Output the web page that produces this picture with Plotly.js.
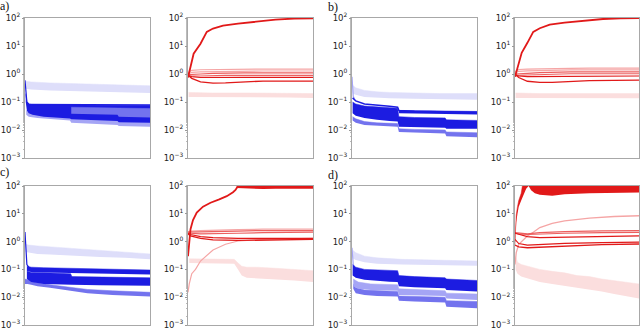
<!DOCTYPE html>
<html><head><meta charset="utf-8">
<script src="https://cdn.plot.ly/plotly-3.0.1.min.js"></script>
<style>html,body{margin:0;padding:0;background:#fff}#c{width:640px;height:331px}</style>
</head><body><div id="c"></div>
<script>
// ---------- shared tick labels ----------
const tickVals = [0.001, 0.01, 0.1, 1, 10, 100];
const tickText = ['10<sup>−3</sup>', '10<sup>−2</sup>', '10<sup>−1</sup>', '10<sup>0</sup>', '10<sup>1</sup>', '10<sup>2</sup>'];
const panelLabels = ['a)', 'b)', 'c)', 'd)'];

// ---------- panel a, left (blue) ----------
const aL_pale_x = [0.5, 5, 20, 40, 60, 80, 100];
const aL_pale_hi = [0.55, 0.52, 0.48, 0.45, 0.42, 0.4, 0.38];
const aL_pale_lo = [0.3, 0.28, 0.26, 0.25, 0.23, 0.22, 0.21];
const aL_light_x = [1, 3, 10, 20, 36, 37, 60, 74, 75, 100];
const aL_light_hi = [0.05, 0.045, 0.04, 0.038, 0.035, 0.035, 0.032, 0.03, 0.028, 0.026];
const aL_light_lo = [0.035, 0.03, 0.027, 0.025, 0.022, 0.018, 0.016, 0.015, 0.014, 0.013];
const aL_dark_x = [0.6, 1.5, 3, 6, 15, 30, 36, 37, 60, 74, 75, 100];
const aL_dark_hi = [0.2, 0.1, 0.085, 0.08, 0.08, 0.078, 0.078, 0.078, 0.077, 0.076, 0.076, 0.075];
const aL_dark_lo = [0.1, 0.05, 0.04, 0.035, 0.03, 0.027, 0.026, 0.024, 0.022, 0.021, 0.019, 0.018];
const aL_mid_x = [37, 60, 74, 75, 100];
const aL_mid_hi = [0.065, 0.062, 0.06, 0.06, 0.058];
const aL_mid_lo = [0.038, 0.036, 0.035, 0.03, 0.028];
const aL_spike_x = [0, 0.3, 0.8, 1.5, 3];
const aL_spike_y = [0.6, 0.45, 0.2, 0.1, 0.085];
const aL_top_x = [1.5, 20, 50, 100];
const aL_top_y = [0.082, 0.08, 0.079, 0.078];

// ---------- panel a, right (red) ----------
const aR_pale_x = [0.5, 20, 50, 80, 100];
const aR_pale_hi = [0.22, 0.21, 0.21, 0.21, 0.2];
const aR_pale_lo = [0.15, 0.15, 0.15, 0.145, 0.14];
const aR_big_x = [0, 2, 4.5, 10, 15, 20, 28, 40, 55, 70, 85, 100];
const aR_big_y = [0.75, 1.8, 5.3, 12, 32, 42, 53, 63, 75, 87, 96, 98];
const aR_line_x = [0, 3, 10, 20, 30, 45, 60, 100];
const aR_l1 = [0.9, 0.7, 0.52, 0.47, 0.48, 0.53, 0.56, 0.56];
const aR_l2 = [0.85, 0.8, 0.75, 0.74, 0.75, 0.76, 0.76, 0.76];
const aR_l3 = [0.9, 0.85, 0.85, 0.88, 0.9, 0.9, 0.9, 0.9];
const aR_l4 = [0.95, 0.95, 1.0, 1.05, 1.08, 1.1, 1.1, 1.1];
const aR_l5 = [1.0, 1.15, 1.2, 1.22, 1.25, 1.27, 1.28, 1.28];
const aR_l6 = [1.1, 1.35, 1.42, 1.45, 1.47, 1.5, 1.5, 1.5];

// ---------- panel b, left (blue) ----------
const bL_pale_x = [0.5, 3, 10, 20, 30, 50, 70, 100];
const bL_pale_hi = [0.4, 0.32, 0.26, 0.23, 0.22, 0.21, 0.2, 0.2];
const bL_pale_lo = [0.2, 0.18, 0.15, 0.14, 0.135, 0.13, 0.125, 0.12];
const bL_spike_x = [0, 0.4, 1, 2];
const bL_spike_y = [0.8, 0.4, 0.16, 0.13];
const bL_top_x = [0.5, 3, 10, 20, 30, 36.5, 37.5, 50, 75, 100];
const bL_top_y = [0.14, 0.11, 0.085, 0.075, 0.07, 0.065, 0.05, 0.047, 0.045, 0.043];
const bL_up_x = [37.5, 60, 100];
const bL_up_hi = [0.05, 0.048, 0.046];
const bL_up_lo = [0.04, 0.038, 0.036];
const bL_dark_x = [0.5, 3, 10, 20, 30, 36.5, 37.5, 50, 74.5, 75.5, 100];
const bL_dark_hi = [0.1, 0.085, 0.072, 0.066, 0.062, 0.06, 0.03, 0.028, 0.027, 0.023, 0.022];
const bL_dark_lo = [0.04, 0.032, 0.027, 0.023, 0.021, 0.02, 0.013, 0.0125, 0.012, 0.011, 0.011];
const bL_light_x = [0.5, 3, 10, 20, 36.5, 37.5, 50, 74.5, 75.5, 100];
const bL_light_hi = [0.03, 0.025, 0.02, 0.018, 0.017, 0.011, 0.0105, 0.01, 0.0085, 0.008];
const bL_light_lo = [0.022, 0.018, 0.015, 0.014, 0.013, 0.0085, 0.008, 0.0075, 0.006, 0.0055];

// ---------- panel b, right (red) ----------
const bR_pale_x = [0.5, 20, 50, 80, 100];
const bR_pale_hi = [0.21, 0.2, 0.2, 0.2, 0.2];
const bR_pale_lo = [0.14, 0.14, 0.14, 0.14, 0.135];
const bR_big_x = [0, 2, 5.4, 10, 14.7, 20, 28, 40, 52, 71, 85, 100];
const bR_big_y = [0.8, 1.8, 5.7, 13, 32, 43, 58, 68, 76, 92, 97, 99];
const bR_line_x = [0, 3, 10, 20, 30, 45, 60, 100];
const bR_l1 = [1.0, 0.75, 0.55, 0.5, 0.5, 0.55, 0.58, 0.6];
const bR_l2 = [0.9, 0.85, 0.8, 0.8, 0.82, 0.85, 0.85, 0.85];
const bR_l3 = [0.95, 0.9, 0.92, 0.95, 1.0, 1.02, 1.02, 1.02];
const bR_l4 = [1.0, 1.0, 1.05, 1.12, 1.18, 1.2, 1.2, 1.2];
const bR_l5 = [1.1, 1.25, 1.3, 1.35, 1.38, 1.4, 1.4, 1.4];
const bR_l6 = [1.2, 1.45, 1.5, 1.55, 1.58, 1.6, 1.62, 1.62];

// ---------- panel c, left (blue) ----------
const cL_pale_x = [0.5, 3, 10, 20, 40, 60, 80, 100];
const cL_pale_hi = [0.8, 0.75, 0.7, 0.65, 0.55, 0.48, 0.42, 0.36];
const cL_pale_lo = [0.42, 0.4, 0.36, 0.34, 0.3, 0.28, 0.26, 0.23];
const cL_spike_x = [0, 0.3, 0.8, 1.5, 3];
const cL_spike_y = [2.2, 1.0, 0.3, 0.15, 0.12];
const cL_up_x = [1.5, 5, 15, 30, 50, 70, 100];
const cL_up_hi = [0.13, 0.12, 0.115, 0.11, 0.105, 0.1, 0.095];
const cL_up_lo = [0.085, 0.08, 0.078, 0.075, 0.072, 0.07, 0.065];
const cL_low_x = [1.5, 5, 15, 30, 36.5, 37.5, 60, 100];
const cL_low_hi = [0.085, 0.078, 0.075, 0.072, 0.07, 0.055, 0.052, 0.05];
const cL_low_lo = [0.045, 0.035, 0.03, 0.028, 0.027, 0.028, 0.027, 0.026];
const cL_mid_x = [0, 2, 5, 10, 20, 30, 38, 50, 70, 100];
const cL_mid_hi = [0.045, 0.042, 0.038, 0.033, 0.028, 0.025, 0.022, 0.019, 0.017, 0.015];
const cL_mid_lo = [0.03, 0.03, 0.028, 0.025, 0.022, 0.019, 0.017, 0.014, 0.012, 0.0105];

// ---------- panel c, right (red) ----------
const cR_pale_x = [1, 10, 20, 30, 37, 40, 43, 47, 55, 70, 85, 100];
const cR_pale_hi = [0.24, 0.24, 0.24, 0.24, 0.23, 0.17, 0.13, 0.12, 0.12, 0.11, 0.1, 0.09];
const cR_pale_lo = [0.17, 0.17, 0.17, 0.17, 0.16, 0.1, 0.06, 0.05, 0.048, 0.045, 0.04, 0.035];
const cR_rise_x = [0, 1, 3, 6, 10, 15, 20, 30, 40, 60, 100];
const cR_rise_y = [0.015, 0.03, 0.07, 0.1, 0.2, 0.32, 0.5, 0.8, 1.05, 1.2, 1.3];
const cR_big_x = [0, 1, 2, 4, 7, 12, 18, 25, 31, 36, 38, 40];
const cR_big_y = [0.3, 1.0, 2.8, 6, 11, 18, 25, 33, 43, 60, 72, 100];
const cR_top_x = [39, 50, 60, 70, 80, 90, 100];
const cR_top_lo = [85, 80, 78, 80, 78, 80, 80];
const cR_top_hi = [200, 200, 200, 200, 200, 200, 200];
const cR_line_x = [0, 2, 10, 20, 40, 60, 100];
const cR_l1 = [1.9, 1.6, 1.3, 1.15, 1.1, 1.15, 1.2];
const cR_l2 = [2.0, 1.8, 1.5, 1.4, 1.3, 1.3, 1.3];
const cR_l3 = [2.1, 2.0, 1.9, 1.9, 2.0, 2.1, 2.2];
const cR_l4 = [2.2, 2.2, 2.2, 2.3, 2.4, 2.5, 2.5];
const cR_l5 = [2.3, 2.4, 2.5, 2.6, 2.7, 2.8, 2.8];

// ---------- panel d, left (blue) ----------
const dL_pale_x = [0.5, 3, 10, 20, 40, 60, 80, 100];
const dL_pale_hi = [0.5, 0.4, 0.3, 0.26, 0.23, 0.22, 0.21, 0.2];
const dL_pale_lo = [0.25, 0.22, 0.18, 0.16, 0.15, 0.145, 0.14, 0.135];
const dL_spike_x = [0, 0.5, 1, 2];
const dL_spike_y = [0.6, 0.3, 0.15, 0.12];
const dL_dark_x = [0.5, 3, 10, 20, 30, 36.5, 37.5, 50, 74.5, 75.5, 100];
const dL_dark_hi = [0.15, 0.12, 0.1, 0.095, 0.09, 0.09, 0.06, 0.055, 0.05, 0.045, 0.04];
const dL_dark_lo = [0.06, 0.05, 0.042, 0.038, 0.036, 0.035, 0.025, 0.023, 0.021, 0.018, 0.016];
const dL_light_x = [1, 5, 15, 36.5, 37.5, 74.5, 75.5, 100];
const dL_light_hi = [0.045, 0.035, 0.03, 0.028, 0.02, 0.017, 0.014, 0.013];
const dL_light_lo = [0.025, 0.02, 0.018, 0.017, 0.012, 0.011, 0.009, 0.008];
const dL_mid_x = [1, 3, 10, 20, 36.5, 37.5, 50, 74.5, 75.5, 100];
const dL_mid_hi = [0.03, 0.022, 0.018, 0.017, 0.016, 0.011, 0.0105, 0.01, 0.0075, 0.007];
const dL_mid_lo = [0.02, 0.014, 0.012, 0.011, 0.0105, 0.0075, 0.007, 0.0065, 0.0045, 0.004];

// ---------- panel d, right (red) ----------
const dR_pale_x = [0.5, 2, 5, 10, 20, 30, 40, 50, 60, 70, 80, 90, 100];
const dR_pale_hi = [0.3, 0.18, 0.15, 0.13, 0.1, 0.085, 0.075, 0.06, 0.055, 0.045, 0.04, 0.035, 0.03];
const dR_pale_lo = [0.1, 0.07, 0.055, 0.048, 0.035, 0.03, 0.026, 0.022, 0.019, 0.016, 0.013, 0.011, 0.009];
const dR_rise_x = [0, 1, 3, 6, 10, 15, 20, 30, 40, 60, 80, 100];
const dR_rise_y = [0.15, 0.4, 0.8, 1.1, 1.6, 2.2, 3.2, 4.5, 5.6, 7, 8, 8.5];
const dR_big_x = [0, 0.5, 1, 2, 3, 5, 7, 9, 11, 13, 16, 20, 30, 40, 60, 80, 100];
const dR_big_lo = [0.6, 3, 5, 10, 18, 30, 50, 80, 100, 70, 55, 48, 45, 50, 55, 57, 58];
const dR_big_hi = [1, 5, 9, 18, 30, 55, 200, 200, 200, 200, 200, 200, 200, 200, 200, 200, 200];
const dR_line_x = [0, 3, 10, 20, 40, 70, 100];
const dR_l1 = [0.75, 0.65, 0.6, 0.63, 0.7, 0.78, 0.82];
const dR_l2 = [1.2, 0.85, 0.75, 0.8, 0.87, 0.92, 0.95];
const dR_l3 = [2.0, 1.8, 1.5, 1.4, 1.45, 1.5, 1.6];
const dR_l4 = [2.0, 1.9, 1.8, 1.9, 2.0, 2.1, 2.15];
const dR_l5 = [2.1, 2.0, 1.9, 2.1, 2.3, 2.45, 2.5];

// ---------- colours ----------
const BLUE_D = 'rgb(28,28,225)', BLUE_M = 'rgb(115,115,238)', BLUE_L = 'rgb(165,165,245)', BLUE_P = 'rgb(222,222,250)';
const RED_D = 'rgb(225,25,25)', RED_M = 'rgb(236,95,95)', RED_L = 'rgb(245,165,165)', RED_P = 'rgb(251,222,222)';

const traces = [];
function ax(i) { return i === 1 ? ['x', 'y'] : ['x' + i, 'y' + i]; }
function band(i, x, lo, hi, color) {
  const [xa, ya] = ax(i);
  traces.push({x: x, y: lo, xaxis: xa, yaxis: ya, mode: 'lines', line: {width: 0, color: color}, hoverinfo: 'skip', showlegend: false});
  traces.push({x: x, y: hi, xaxis: xa, yaxis: ya, mode: 'lines', line: {width: 0.5, color: color}, fill: 'tonexty', fillcolor: color, hoverinfo: 'skip', showlegend: false});
}
function line(i, x, y, color, w) {
  const [xa, ya] = ax(i);
  traces.push({x: x, y: y, xaxis: xa, yaxis: ya, mode: 'lines', line: {width: w, color: color}, hoverinfo: 'skip', showlegend: false});
}

// a left
band(1, aL_pale_x, aL_pale_lo, aL_pale_hi, BLUE_P);
band(1, aL_light_x, aL_light_lo, aL_light_hi, BLUE_L);
band(1, aL_dark_x, aL_dark_lo, aL_dark_hi, BLUE_D);
band(1, aL_mid_x, aL_mid_lo, aL_mid_hi, BLUE_M);
line(1, aL_spike_x, aL_spike_y, BLUE_D, 1.2);
line(1, aL_top_x, aL_top_y, BLUE_D, 1.5);
// a right
band(2, aR_pale_x, aR_pale_lo, aR_pale_hi, RED_P);
line(2, aR_line_x, aR_l6, RED_L, 1.2);
line(2, aR_line_x, aR_l5, RED_L, 1.2);
line(2, aR_line_x, aR_l4, RED_M, 1.2);
line(2, aR_line_x, aR_l3, RED_M, 1.2);
line(2, aR_line_x, aR_l2, RED_D, 1.2);
line(2, aR_line_x, aR_l1, RED_D, 1.3);
line(2, aR_big_x, aR_big_y, RED_D, 1.8);
// b left
band(3, bL_pale_x, bL_pale_lo, bL_pale_hi, BLUE_P);
line(3, bL_spike_x, bL_spike_y, BLUE_L, 1.2);
band(3, bL_light_x, bL_light_lo, bL_light_hi, BLUE_M);
band(3, bL_dark_x, bL_dark_lo, bL_dark_hi, BLUE_D);
band(3, bL_up_x, bL_up_lo, bL_up_hi, BLUE_D);
line(3, bL_top_x, bL_top_y, BLUE_D, 1.5);
// b right
band(4, bR_pale_x, bR_pale_lo, bR_pale_hi, RED_P);
line(4, bR_line_x, bR_l6, RED_L, 1.2);
line(4, bR_line_x, bR_l5, RED_L, 1.2);
line(4, bR_line_x, bR_l4, RED_M, 1.2);
line(4, bR_line_x, bR_l3, RED_M, 1.2);
line(4, bR_line_x, bR_l2, RED_D, 1.2);
line(4, bR_line_x, bR_l1, RED_D, 1.3);
line(4, bR_big_x, bR_big_y, RED_D, 1.8);
// c left
band(5, cL_pale_x, cL_pale_lo, cL_pale_hi, BLUE_P);
band(5, cL_mid_x, cL_mid_lo, cL_mid_hi, BLUE_M);
band(5, cL_low_x, cL_low_lo, cL_low_hi, BLUE_D);
band(5, cL_up_x, cL_up_lo, cL_up_hi, BLUE_D);
line(5, cL_spike_x, cL_spike_y, BLUE_D, 1.2);
// c right
band(6, cR_pale_x, cR_pale_lo, cR_pale_hi, RED_P);
line(6, cR_rise_x, cR_rise_y, RED_L, 1.2);
line(6, cR_line_x, cR_l5, RED_L, 1.2);
line(6, cR_line_x, cR_l4, RED_M, 1.2);
line(6, cR_line_x, cR_l3, RED_M, 1.2);
line(6, cR_line_x, cR_l2, RED_D, 1.2);
line(6, cR_line_x, cR_l1, RED_D, 1.3);
line(6, cR_big_x, cR_big_y, RED_D, 1.8);
band(6, cR_top_x, cR_top_lo, cR_top_hi, RED_D);
// d left
band(7, dL_pale_x, dL_pale_lo, dL_pale_hi, BLUE_P);
line(7, dL_spike_x, dL_spike_y, BLUE_L, 1.2);
band(7, dL_mid_x, dL_mid_lo, dL_mid_hi, BLUE_M);
band(7, dL_light_x, dL_light_lo, dL_light_hi, BLUE_L);
band(7, dL_dark_x, dL_dark_lo, dL_dark_hi, BLUE_D);
// d right
band(8, dR_pale_x, dR_pale_lo, dR_pale_hi, RED_P);
line(8, dR_rise_x, dR_rise_y, RED_L, 1.3);
line(8, dR_line_x, dR_l5, RED_M, 1.2);
line(8, dR_line_x, dR_l4, RED_M, 1.2);
line(8, dR_line_x, dR_l3, RED_D, 1.2);
line(8, dR_line_x, dR_l2, RED_D, 1.2);
line(8, dR_line_x, dR_l1, RED_D, 1.3);
band(8, dR_big_x, dR_big_lo, dR_big_hi, RED_D);

// ---------- layout ----------
const W = 640, H = 331;
const colsPx = [[25, 150], [188, 313], [352, 477], [515, 639]];
const rowsPx = [[18, 158], [186, 325]];
const layout = {
  width: W, height: H, margin: {l: 0, r: 0, t: 0, b: 0},
  paper_bgcolor: '#fff', plot_bgcolor: '#fff', showlegend: false,
  annotations: [], font: {family: 'DejaVu Sans', color: '#222'}
};
const cells = [[0, 0], [0, 1], [0, 2], [0, 3], [1, 0], [1, 1], [1, 2], [1, 3]];
cells.forEach((rc, k) => {
  const i = k + 1;
  const [r, c] = rc;
  const xd = [colsPx[c][0] / W, colsPx[c][1] / W];
  const yd = [1 - rowsPx[r][1] / H, 1 - rowsPx[r][0] / H];
  const xn = i === 1 ? 'xaxis' : 'xaxis' + i;
  const yn = i === 1 ? 'yaxis' : 'yaxis' + i;
  const [xa, ya] = ax(i);
  layout[xn] = {domain: xd, anchor: ya, range: [0, 100], showticklabels: false, ticks: '', showgrid: false,
    zeroline: false, showline: true, linecolor: '#a8a8a8', linewidth: 1, mirror: true, fixedrange: true};
  layout[yn] = {domain: yd, anchor: xa, type: 'log', range: [-3, 2], tickvals: tickVals, ticktext: tickText,
    ticks: 'outside', ticklen: 2, tickcolor: '#999', showgrid: false, zeroline: false, showline: true,
    linecolor: '#a8a8a8', linewidth: 1, mirror: true, ticklabeloverflow: 'allow',
    tickfont: {family: 'DejaVu Sans', size: 8.5, color: '#222'},
    minor: {ticks: 'outside', ticklen: 1, tickcolor: '#bbb', showgrid: false}, fixedrange: true};
});
const labelPos = [[-2, 6], [326, 7], [-2, 172], [326, 175]];
panelLabels.forEach((t, k) => {
  layout.annotations.push({text: t, xref: 'paper', yref: 'paper', x: labelPos[k][0] / W, y: 1 - labelPos[k][1] / H,
    xanchor: 'left', yanchor: 'middle', showarrow: false, font: {family: 'Liberation Serif', size: 12, color: '#111'}});
});
Plotly.newPlot('c', traces, layout, {staticPlot: true});
</script></body></html>
